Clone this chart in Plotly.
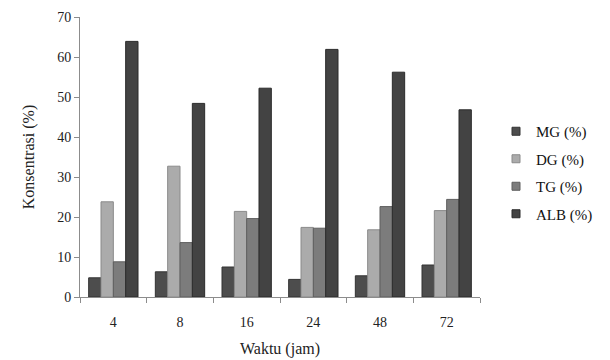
import plotly.graph_objects as go

categories = ["4", "8", "16", "24", "48", "72"]
mg = [4.8, 6.3, 7.5, 4.4, 5.3, 8.0]
dg = [23.8, 32.7, 21.4, 17.4, 16.8, 21.6]
tg = [8.8, 13.6, 19.6, 17.2, 22.6, 24.4]
alb = [63.9, 48.4, 52.2, 61.9, 56.2, 46.8]

series_names = ["MG (%)", "DG (%)", "TG (%)", "ALB (%)"]
series_values = [mg, dg, tg, alb]
series_colors = ["#4d4d4d", "#ababab", "#7c7c7c", "#434343"]
edge_colors = ["#333333", "#8a8a8a", "#5e5e5e", "#2b2b2b"]

font_family = "Liberation Serif"

fig = go.Figure()
for name, vals, col, edge in zip(series_names, series_values, series_colors, edge_colors):
    fig.add_trace(go.Bar(
        x=categories, y=vals, name=name, legendgroup=name, showlegend=False,
        marker=dict(color=col, line=dict(color=edge, width=1)),
    ))
# legend entries with small square symbols
for name, col, edge in zip(series_names, series_colors, edge_colors):
    fig.add_trace(go.Scatter(
        x=[None], y=[None], mode="markers", name=name, legendgroup=name,
        marker=dict(symbol="square", size=8, color=col, line=dict(color=edge, width=1)),
    ))

fig.update_layout(
    width=610, height=360,
    margin=dict(l=80, r=108, t=17, b=63),
    paper_bgcolor="white", plot_bgcolor="white",
    barmode="group", bargap=0.26, bargroupgap=0.0,
    font=dict(family=font_family, size=14, color="#222222"),
    legend=dict(
        x=1.04, y=0.65, xanchor="left", yanchor="top",
        font=dict(family=font_family, size=15, color="#111111"),
        tracegroupgap=5, itemwidth=30,
    ),
    xaxis=dict(
        type="category", automargin=False,
        title=dict(text="Waktu (jam)", font=dict(size=16, family=font_family), standoff=14),
        showline=True, linecolor="#8c8c8c", linewidth=1,
        ticks="outside", tickson="boundaries", ticklen=5, tickcolor="#8c8c8c",
        ticklabelstandoff=12,
        showgrid=False, tickfont=dict(size=14, family=font_family),
    ),
    yaxis=dict(
        range=[0, 70], dtick=10, automargin=False,
        title=dict(text="Konsentrasi (%)", font=dict(size=16, family=font_family), standoff=18),
        showline=True, linecolor="#8c8c8c", linewidth=1,
        ticks="outside", ticklen=5, tickcolor="#8c8c8c",
        showgrid=False, zeroline=False, tickfont=dict(size=14, family=font_family),
    ),
)

fig.write_html("out.html")
